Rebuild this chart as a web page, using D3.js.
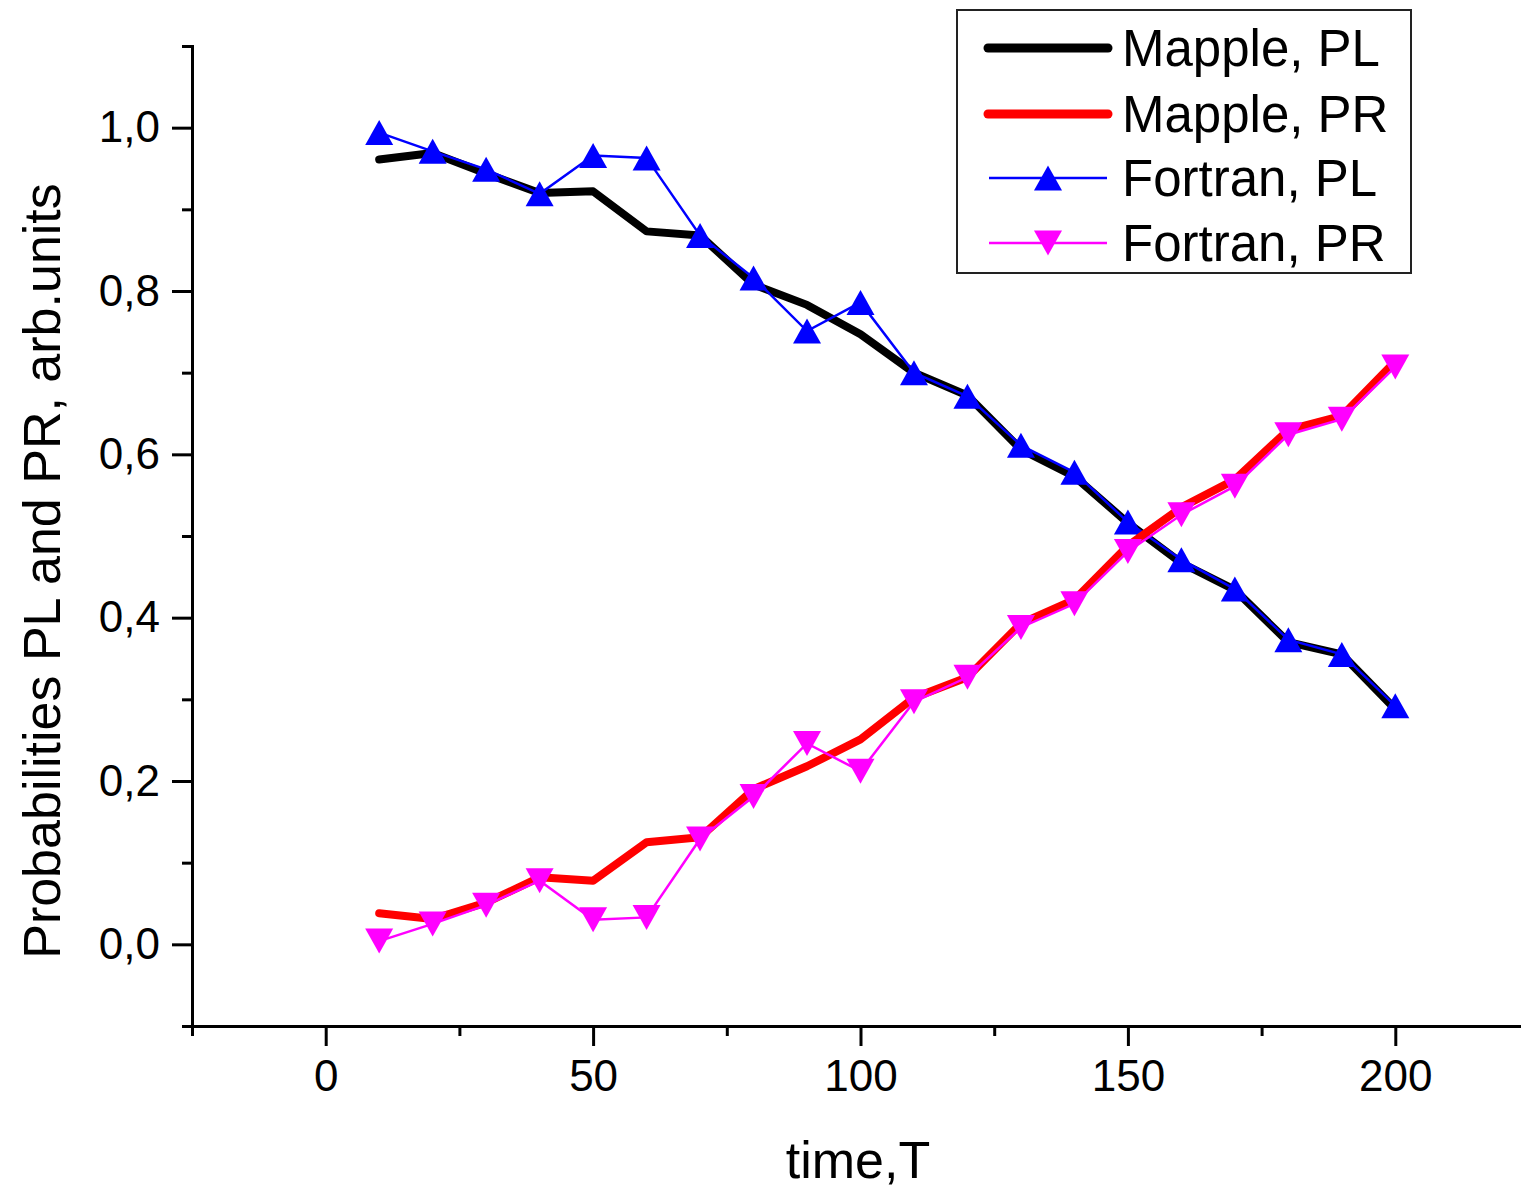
<!DOCTYPE html>
<html>
<head>
<meta charset="utf-8">
<script src="https://cdn.jsdelivr.net/npm/d3@7"></script>
<style>
  body { margin: 0; background: #fff; }
  svg { display: block; font-family: "Liberation Sans", Arial, sans-serif; }
</style>
</head>
<body>
<div id="chart"></div>
<script>
// time points
var times = [10, 20, 30, 40, 50, 60, 70, 80, 90, 100, 110, 120, 130, 140, 150, 160, 170, 180, 190, 200];

// Mapple results
var mapplePL = [0.961, 0.969, 0.944, 0.920, 0.922, 0.873, 0.868, 0.808, 0.783, 0.747, 0.700, 0.672, 0.606, 0.573, 0.516, 0.467, 0.434, 0.370, 0.355, 0.288];
var mapplePR = [0.038, 0.031, 0.051, 0.082, 0.078, 0.125, 0.131, 0.190, 0.218, 0.251, 0.302, 0.327, 0.393, 0.422, 0.488, 0.535, 0.569, 0.630, 0.647, 0.714];

// Fortran results
var fortranPL = [0.994, 0.971, 0.949, 0.919, 0.966, 0.963, 0.868, 0.816, 0.751, 0.786, 0.700, 0.671, 0.611, 0.578, 0.517, 0.471, 0.435, 0.373, 0.355, 0.292];
var fortranPR = [0.004, 0.025, 0.048, 0.078, 0.030, 0.033, 0.129, 0.181, 0.246, 0.212, 0.297, 0.327, 0.388, 0.417, 0.481, 0.526, 0.561, 0.624, 0.643, 0.707];

var xMajor = [0, 50, 100, 150, 200];
var xMinor = [-25, 25, 75, 125, 175, 225];
var yMajor = [0, 0.2, 0.4, 0.6, 0.8, 1.0];
var yMinor = [-0.1, 0.1, 0.3, 0.5, 0.7, 0.9, 1.1];

var legendNames = ['Mapple, PL', 'Mapple, PR', 'Fortran, PL', 'Fortran, PR'];

var W = 1521, H = 1190;
var svg = d3.select('#chart').append('svg')
    .attr('width', W)
    .attr('height', H);
svg.append('rect').attr('width', W).attr('height', H).attr('fill', '#fff');

// 座標軸
var x = d3.scaleLinear().domain([-25, 225]).range([192, 1529]);
var y = d3.scaleLinear().domain([-0.1, 1.1]).range([1026, 46]);

var fmt = function(d) { return d3.format('.1f')(d).replace('.', ','); };

// x axis
var gx = svg.append('g').attr('transform', 'translate(0,' + y(-0.1) + ')');
gx.call(d3.axisBottom(x).tickValues(xMajor).tickSize(20).tickPadding(14).tickFormat(d3.format('d')));
gx.append('g').call(d3.axisBottom(x).tickValues(xMinor).tickSize(10).tickFormat(''));

// y axis
var gy = svg.append('g').attr('transform', 'translate(' + x(-25) + ',0)');
gy.call(d3.axisLeft(y).tickValues(yMajor).tickSize(20).tickPadding(12).tickFormat(fmt));
gy.append('g').call(d3.axisLeft(y).tickValues(yMinor).tickSize(10).tickFormat(''));

svg.selectAll('.domain').attr('stroke', '#000').attr('stroke-width', 3);
svg.selectAll('.tick line').attr('stroke', '#000').attr('stroke-width', 3);
svg.selectAll('.tick text').attr('font-size', 44).attr('fill', '#000')
    .attr('font-family', '"Liberation Sans", Arial, sans-serif');
gx.select('g .domain').remove();
gy.select('g .domain').remove();

// axis titles
svg.append('text')
    .attr('x', 858)
    .attr('y', 1178)
    .attr('text-anchor', 'middle')
    .attr('font-size', 52)
    .text('time,T');

svg.append('text')
    .attr('transform', 'translate(60,571) rotate(-90)')
    .attr('text-anchor', 'middle')
    .attr('font-size', 52)
    .text('Probabilities PL and PR, arb.units');

function pts(vals) {
    return times.map(function(t, i) { return [t, vals[i]]; });
}

var line = d3.line()
    .x(function(d) { return x(d[0]); })
    .y(function(d) { return y(d[1]); });

// triangle centred on its bounding box (like Origin symbols)
var tri = 'M0,-12.5L14,12.5L-14,12.5Z';

function drawThick(vals, color) {
    svg.append('path')
        .attr('d', line(pts(vals)))
        .attr('fill', 'none')
        .attr('stroke', color)
        .attr('stroke-width', 8)
        .attr('stroke-linejoin', 'round')
        .attr('stroke-linecap', 'round');
}

function drawMarked(vals, color, flip) {
    svg.append('path')
        .attr('d', line(pts(vals)))
        .attr('fill', 'none')
        .attr('stroke', color)
        .attr('stroke-width', 2.5);
    svg.append('g').selectAll('path')
        .data(pts(vals))
        .enter().append('path')
        .attr('d', tri)
        .attr('fill', color)
        .attr('transform', function(d) {
            return 'translate(' + x(d[0]) + ',' + y(d[1]) + ')' + (flip ? ' rotate(180)' : '');
        });
}

drawThick(mapplePL, '#000');
drawMarked(fortranPL, '#0000ff', false);
drawThick(mapplePR, '#ff0000');
drawMarked(fortranPR, '#ff00ff', true);

// legend
var lg = svg.append('g');
lg.append('rect')
    .attr('x', 957).attr('y', 10)
    .attr('width', 454).attr('height', 263)
    .attr('fill', '#fff')
    .attr('stroke', '#222')
    .attr('stroke-width', 2);

var legendColors = ['#000', '#ff0000', '#0000ff', '#ff00ff'];
var legendY = [48, 114, 178, 243];
legendNames.forEach(function(name, i) {
    var ly = legendY[i];
    if (i < 2) {
        lg.append('line')
            .attr('x1', 988).attr('x2', 1108)
            .attr('y1', ly).attr('y2', ly)
            .attr('stroke', legendColors[i])
            .attr('stroke-width', 9)
            .attr('stroke-linecap', 'round');
    } else {
        lg.append('line')
            .attr('x1', 989).attr('x2', 1107)
            .attr('y1', ly).attr('y2', ly)
            .attr('stroke', legendColors[i])
            .attr('stroke-width', 2.5);
        lg.append('path')
            .attr('d', tri)
            .attr('fill', legendColors[i])
            .attr('transform', 'translate(1048,' + ly + ')' + (i == 3 ? ' rotate(180)' : ''));
    }
    lg.append('text')
        .attr('x', 1122)
        .attr('y', ly + 18)
        .attr('font-size', 51)
        .text(name);
});
</script>
</body>
</html>
